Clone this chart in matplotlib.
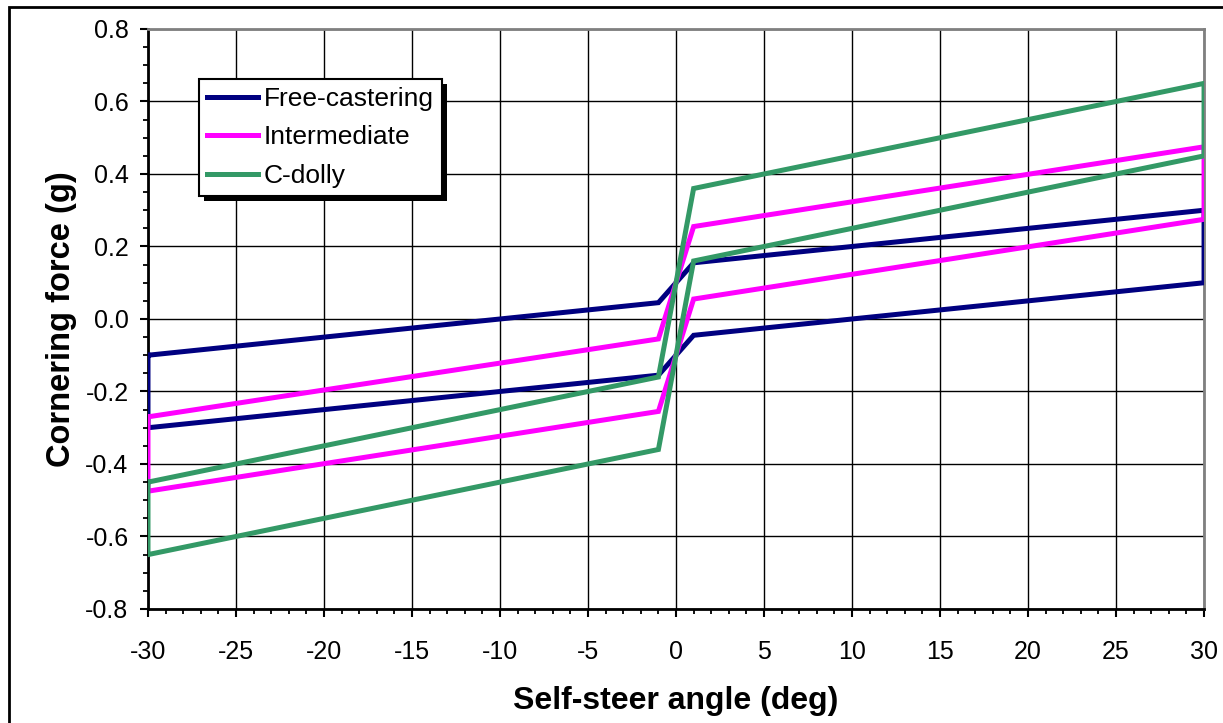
import matplotlib
matplotlib.use("Agg")
import matplotlib.pyplot as plt
from matplotlib.ticker import MultipleLocator, FormatStrFormatter
from matplotlib.patches import Rectangle
from matplotlib.transforms import IdentityTransform

plt.rcParams['font.family'] = ['Liberation Sans', 'DejaVu Sans']
plt.rcParams['axes.unicode_minus'] = False

# hysteresis loops: upper branch left->right, then lower branch right->left, closed
angle = [-30, -1, 1, 30, 30, 1, -1, -30, -30]
free_castering = [-0.10, 0.045, 0.155, 0.30, 0.10, -0.045, -0.155, -0.30, -0.10]
intermediate = [-0.27, -0.055, 0.255, 0.475, 0.275, 0.055, -0.255, -0.475, -0.27]
c_dolly = [-0.45, -0.16, 0.36, 0.65, 0.45, 0.16, -0.36, -0.65, -0.45]

series_names = ["Free-castering", "Intermediate", "C-dolly"]
series_colors = ["#000080", "#FF00FF", "#339966"]

fig = plt.figure(figsize=(12.23, 7.23), dpi=100)
ax = fig.add_axes([0.1210, 0.1577, 0.8635, 0.8022])

for ys, name, col in zip([free_castering, intermediate, c_dolly], series_names, series_colors):
    ax.plot(angle, ys, color=col, lw=3.6, label=name, solid_joinstyle='miter', zorder=3)

ax.set_xlim(-30, 30)
ax.set_ylim(-0.8, 0.8)
ax.xaxis.set_major_locator(MultipleLocator(5))
ax.xaxis.set_minor_locator(MultipleLocator(1))
ax.yaxis.set_major_locator(MultipleLocator(0.2))
ax.yaxis.set_minor_locator(MultipleLocator(0.05))
ax.yaxis.set_major_formatter(FormatStrFormatter('%.1f'))
ax.grid(True, which='major', color='black', lw=1.0)
ax.set_axisbelow(True)

ax.tick_params(which='major', direction='out', length=6, width=1.5, labelsize=18)
ax.tick_params(which='minor', direction='out', length=3.8, width=1.3)
ax.tick_params(axis='x', which='major', pad=16)
ax.tick_params(axis='y', which='major', pad=8)

for s in ['left', 'bottom']:
    ax.spines[s].set_linewidth(2)
    ax.spines[s].set_color('black')
for s in ['top', 'right']:
    ax.spines[s].set_linewidth(2)
    ax.spines[s].set_color('#808080')

ax.set_xlabel("Self-steer angle (deg)", fontsize=23, fontweight='bold', labelpad=16)
ax.set_ylabel("Cornering force (g)", fontsize=23.5, fontweight='bold', labelpad=6)

leg = ax.legend(loc='upper left', bbox_to_anchor=(0.0483, 0.9138), borderaxespad=0,
                fontsize=19, frameon=True, fancybox=False, edgecolor='black',
                framealpha=1, handlelength=1.95, handletextpad=0.2, labelspacing=0.55,
                borderpad=0.3, handleheight=0.7)
leg.get_frame().set_linewidth(1.5)
leg.set_zorder(6)

# black drop shadow behind the legend box
fig.canvas.draw()
bb = leg.get_window_extent()
ax.add_patch(Rectangle((bb.x0 + 5, bb.y0 - 5), bb.width, bb.height, transform=IdentityTransform(),
                       facecolor='black', edgecolor='none', zorder=5.5, clip_on=False))

# outer chart border
fig.patches.append(Rectangle((0.007, -0.1), 1.2, 1.091, transform=fig.transFigure,
                             fill=False, edgecolor='black', lw=2))

fig.savefig("out.png", dpi=100)
